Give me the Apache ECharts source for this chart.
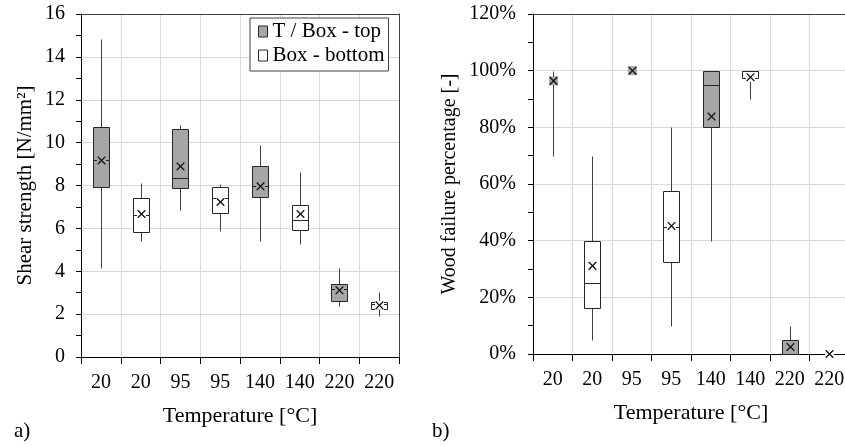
<!DOCTYPE html>
<html>
<head>
<meta charset="utf-8">
<script src="https://cdn.jsdelivr.net/npm/echarts@6/dist/echarts.min.js"></script>
<style>
html, body { margin: 0; padding: 0; background: #fff; }
#chart { width: 845px; height: 446px; }
</style>
</head>
<body>
<div id="chart"></div>
<script>
// Temperature groups (alternating T / Box - top and Box - bottom specimens)
const categories = ['20', '20', '95', '95', '140', '140', '220', '220'];
const seriesNames = ['T / Box - top', 'Box - bottom'];

// Each box: [min, Q1, median, Q3, max, mean]
// a) Shear strength [N/mm²]
const shearTop = [
  [4.15, 7.91, 9.17, 10.71, 14.83, 9.17],
  [6.84, 7.88, 8.35, 10.63, 10.82, 8.89],
  [5.39, 7.46, 7.96, 8.89, 9.87, 7.96],
  [2.36, 2.61, 3.15, 3.42, 4.15, 3.11]
];
const shearBottom = [
  [5.39, 5.83, 6.62, 7.42, 8.12, 6.67],
  [5.90, 6.74, 7.42, 7.93, 8.08, 7.23],
  [5.28, 5.92, 6.37, 7.07, 8.63, 6.67],
  [1.89, 2.24, 2.45, 2.57, 3.01, 2.41]
];

// b) Wood failure percentage [%]
const woodTop = [
  [70, 100, 100, 100, 100, 96.4],
  [100, 100, 100, 100, 100, 100],
  [40, 80, 95, 100, 100, 83.8],
  [0, 0, 0, 5, 10, 2.5]
];
const woodBottom = [
  [5, 16.2, 25, 40, 70, 31.1],
  [10, 32.4, 45, 57.5, 80, 45.2],
  [90, 97.3, 100, 100, 100, 97.7],
  [0, 0, 0, 0, 0, 0]
];

const FONT = 'Liberation Serif';
const GRAY = '#a6a6a6';
const WHITE = '#ffffff';
const EDGE = '#262626';
const WHISKER = '#404040';
const GRID_LINE = '#d9d9d9';

// place box i of a group at category slot 2*i + offset
function toItems(boxes, offset) {
  return boxes.map((b, i) => [2 * i + offset].concat(b));
}

function boxRenderer(fill) {
  return function (params, api) {
    const xi = api.value(0);
    const mn = api.value(1), q1 = api.value(2), md = api.value(3);
    const q3 = api.value(4), mx = api.value(5), mean = api.value(6);
    const cx = Math.round(api.coord([xi, 0])[0]) + 0.5;
    const y = v => Math.round(api.coord([xi, v])[1]) + 0.5;
    const half = Math.round(api.size([1, 0])[0] * 0.2);
    const children = [];
    if (mx > q3) {
      children.push({ type: 'line', shape: { x1: cx, y1: y(q3), x2: cx, y2: y(mx) },
        style: { stroke: WHISKER, lineWidth: 1 } });
    }
    if (mn < q1) {
      children.push({ type: 'line', shape: { x1: cx, y1: y(mn), x2: cx, y2: y(q1) },
        style: { stroke: WHISKER, lineWidth: 1 } });
    }
    if (q3 > q1) {
      children.push({ type: 'rect',
        shape: { x: cx - half, y: y(q3), width: 2 * half, height: y(q1) - y(q3) },
        style: { fill: fill, stroke: EDGE, lineWidth: 1 } });
      children.push({ type: 'line',
        shape: { x1: cx - half, y1: y(md), x2: cx + half, y2: y(md) },
        style: { stroke: EDGE, lineWidth: 1 } });
    }
    // mean marker: cross on a small patch of the box colour
    const my = api.coord([xi, mean])[1];
    const r = 3.8;
    children.push({ type: 'rect', shape: { x: cx - 4.5, y: my - 4.5, width: 9, height: 9 },
      style: { fill: fill } });
    children.push({ type: 'line', shape: { x1: cx - r, y1: my - r, x2: cx + r, y2: my + r },
      style: { stroke: '#111', lineWidth: 1.3 } });
    children.push({ type: 'line', shape: { x1: cx - r, y1: my + r, x2: cx + r, y2: my - r },
      style: { stroke: '#111', lineWidth: 1.3 } });
    return { type: 'group', children: children };
  };
}

function boxSeries(name, fill, data, gi) {
  return {
    type: 'custom', name: name,
    xAxisIndex: gi, yAxisIndex: gi,
    itemStyle: { color: fill, borderColor: EDGE, borderWidth: 1 },
    encode: { x: 0, y: [1, 2, 3, 4, 5, 6] },
    renderItem: boxRenderer(fill),
    data: data,
    z: 5
  };
}

const textStyle = { fontFamily: FONT, fontSize: 20, color: '#000' };
const titleX = { fontFamily: FONT, fontSize: 22, color: '#000' };

function catAxis(gi) {
  return {
    type: 'category', gridIndex: gi, data: categories, boundaryGap: true,
    axisLine: { show: true, onZero: false, lineStyle: { color: '#000', width: 1 } },
    axisTick: { show: true, length: 7, interval: 0, alignWithLabel: false, lineStyle: { color: '#000' } },
    axisLabel: Object.assign({ interval: 0, margin: 16 }, textStyle),
    splitLine: { show: true, interval: 0, lineStyle: { color: GRID_LINE, width: 1 } },
    name: 'Temperature [°C]', nameLocation: 'middle', nameGap: 48,
    nameTextStyle: titleX
  };
}

function frameX(gi) {
  return {
    type: 'category', gridIndex: gi, data: categories, position: 'top',
    axisLine: { show: true, onZero: false, lineStyle: { color: '#404040', width: 1 } },
    axisTick: { show: false }, axisLabel: { show: false }, splitLine: { show: false }
  };
}

function valAxis(gi, max, interval, name, gap, margin, fmt, nameSize) {
  return {
    type: 'value', gridIndex: gi, min: 0, max: max, interval: interval,
    axisLine: { show: true, onZero: false, lineStyle: { color: '#000', width: 1 } },
    axisTick: { show: true, length: 5, lineStyle: { color: '#000' } },
    minorTick: { show: true, splitNumber: 2, length: 5, lineStyle: { color: '#000' } },
    axisLabel: Object.assign({ margin: margin, formatter: fmt }, textStyle),
    splitLine: { show: true, lineStyle: { color: GRID_LINE, width: 1 } },
    name: name, nameLocation: 'middle', nameGap: gap,
    nameTextStyle: { fontFamily: FONT, fontSize: nameSize, color: '#000' }
  };
}

const chart = echarts.init(document.getElementById('chart'), null, { renderer: 'canvas' });

chart.setOption({
  animation: false,
  backgroundColor: '#fff',
  grid: [
    { left: 81, top: 14, width: 318, height: 343, outerBoundsMode: 'none', containLabel: false },
    { left: 533, top: 14, width: 316, height: 340, outerBoundsMode: 'none', containLabel: false }
  ],
  legend: {
    data: seriesNames,
    orient: 'vertical', left: 250, top: 18,
    padding: [3, 4, 5, 8], itemGap: 3, itemWidth: 9, itemHeight: 11,
    icon: 'rect', backgroundColor: '#fff', borderColor: '#404040', borderWidth: 1, borderRadius: 0,
    textStyle: { fontFamily: FONT, fontSize: 21, color: '#000' },
    itemStyle: { borderColor: EDGE, borderWidth: 1 },
    selectedMode: false
  },
  xAxis: [catAxis(0), catAxis(1), frameX(0), frameX(1)],
  yAxis: [
    valAxis(0, 16, 2, 'Shear strength [N/mm²]', 45, 16, v => String(v), 21),
    valAxis(1, 120, 20, 'Wood failure percentage [-]', 73, 17, v => v + '%', 20),
    {
      type: 'value', gridIndex: 0, min: 0, max: 16, position: 'right',
      axisLine: { show: true, onZero: false, lineStyle: { color: '#404040', width: 1 } },
      axisTick: { show: false }, axisLabel: { show: false }, splitLine: { show: false }
    }
  ],
  graphic: [
    { type: 'text', left: 14, top: 421, style: { text: 'a)', font: '21px "Liberation Serif"', fill: '#000' } },
    { type: 'text', left: 432, top: 421, style: { text: 'b)', font: '21px "Liberation Serif"', fill: '#000' } }
  ],
  series: [
    boxSeries(seriesNames[0], GRAY, toItems(shearTop, 0), 0),
    boxSeries(seriesNames[1], WHITE, toItems(shearBottom, 1), 0),
    boxSeries(seriesNames[0], GRAY, toItems(woodTop, 0), 1),
    boxSeries(seriesNames[1], WHITE, toItems(woodBottom, 1), 1)
  ]
});
</script>
</body>
</html>
